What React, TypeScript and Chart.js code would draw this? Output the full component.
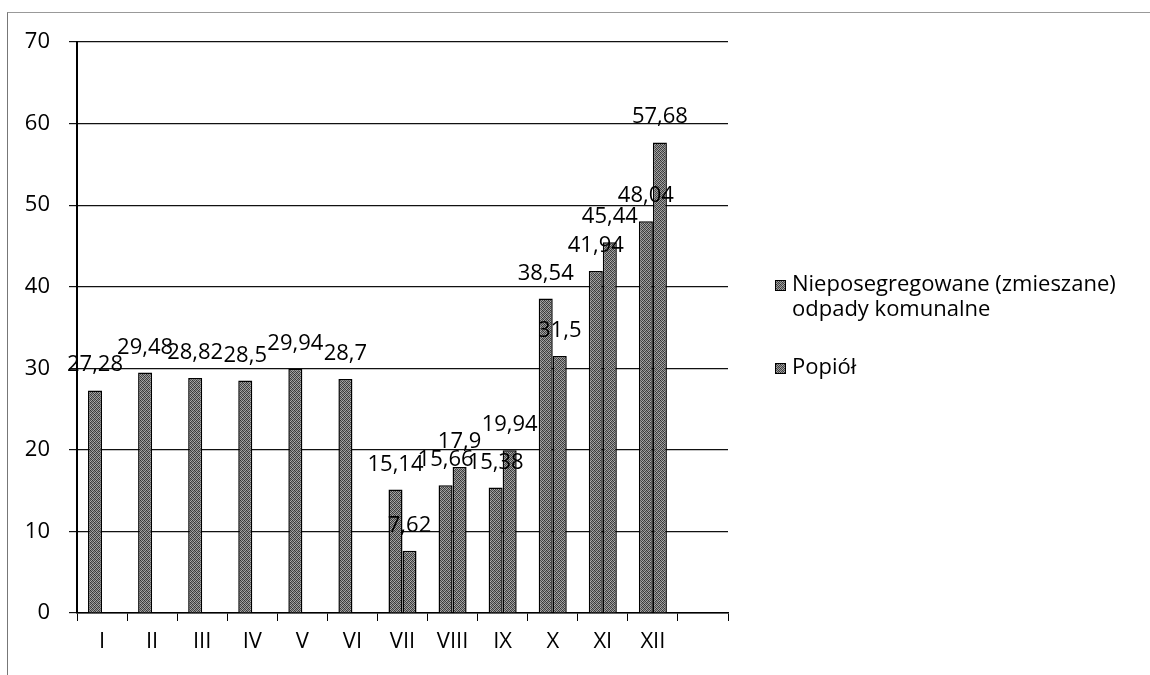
import React, { useEffect, useRef } from "react";
import { Chart, registerables } from "chart.js";

Chart.register(...registerables);

const categories = ["I", "II", "III", "IV", "V", "VI", "VII", "VIII", "IX", "X", "XI", "XII", ""];
const mixedWaste: (number | null)[] = [27.28, 29.48, 28.82, 28.5, 29.94, 28.7, 15.14, 15.66, 15.38, 38.54, 41.94, 48.04, null];
const ash: (number | null)[] = [null, null, null, null, null, null, 7.62, 17.9, 19.94, 31.5, 45.44, 57.68, null];
const seriesNames = ["Nieposegregowane (zmieszane) odpady komunalne", "Popiół"];
const legendLines = [["Nieposegregowane (zmieszane)", "odpady komunalne"], ["Popiół"]];
const yMin = 0;
const yMax = 70;
const yStep = 10;

const FONT = "'Open Sans', sans-serif";
const FONT_SIZE = 22;

function makeTexture(): CanvasPattern | string {
  const c = document.createElement("canvas");
  c.width = 4;
  c.height = 4;
  const g = c.getContext("2d");
  if (!g) return "#6a6a6a";
  const shades = [
    ["#333333", "#9a9a9a", "#4c4c4c", "#a6a6a6"],
    ["#8e8e8e", "#3e3e3e", "#b0b0b0", "#444444"],
    ["#525252", "#a2a2a2", "#363636", "#929292"],
    ["#aaaaaa", "#484848", "#8a8a8a", "#3a3a3a"],
  ];
  for (let y = 0; y < 4; y++) {
    for (let x = 0; x < 4; x++) {
      g.fillStyle = shades[y][x];
      g.fillRect(x, y, 1, 1);
    }
  }
  const p = g.createPattern(c, "repeat");
  return p || "#6a6a6a";
}

const valueLabels = {
  id: "valueLabels",
  afterDatasetsDraw(chart: any) {
    const ctx = chart.ctx;
    ctx.save();
    ctx.font = `${FONT_SIZE}px ${FONT}`;
    ctx.fillStyle = "#000";
    ctx.textAlign = "center";
    ctx.textBaseline = "alphabetic";
    chart.data.datasets.forEach((ds: any, di: number) => {
      const meta = chart.getDatasetMeta(di);
      meta.data.forEach((el: any, i: number) => {
        const v = ds.data[i];
        if (v === null || v === undefined) return;
        const txt = String(v).replace(".", ",");
        ctx.fillText(txt, el.x, el.y - 19);
      });
    });
    ctx.restore();
  },
};

const sideLegend = {
  id: "sideLegend",
  afterDraw(chart: any) {
    const ctx = chart.ctx;
    ctx.save();
    ctx.font = `${FONT_SIZE}px ${FONT}`;
    ctx.textAlign = "left";
    ctx.textBaseline = "middle";
    const starts = [285, 368];
    const lineH = 25;
    legendLines.forEach((lines, di) => {
      const y0 = starts[di];
      const ds = chart.data.datasets[di];
      ctx.fillStyle = ds.backgroundColor;
      ctx.fillRect(775, y0 - 5, 11, 11);
      ctx.strokeStyle = "#000";
      ctx.lineWidth = 1;
      ctx.strokeRect(775.5, y0 - 4.5, 10, 10);
      ctx.fillStyle = "#000";
      lines.forEach((ln, li) => {
        ctx.fillText(ln, 792, y0 + li * lineH);
      });
    });
    ctx.restore();
  },
};

export default function App() {
  const canvasRef = useRef<HTMLCanvasElement | null>(null);

  useEffect(() => {
    const canvas = canvasRef.current;
    if (!canvas) return;
    const fill = makeTexture();
    const chart = new Chart(canvas, {
      type: "bar",
      data: {
        labels: categories,
        datasets: [
          {
            label: seriesNames[0],
            data: mixedWaste,
            backgroundColor: fill as any,
            borderColor: "#000",
            borderWidth: 1.5,
            borderSkipped: "bottom",
            categoryPercentage: 0.56,
            barPercentage: 1,
          },
          {
            label: seriesNames[1],
            data: ash,
            backgroundColor: fill as any,
            borderColor: "#000",
            borderWidth: 1.5,
            borderSkipped: "bottom",
            categoryPercentage: 0.56,
            barPercentage: 1,
          },
        ],
      },
      options: {
        responsive: false,
        animation: false,
        devicePixelRatio: 1,
        layout: { padding: { left: 0, top: 42, right: 422, bottom: 0 } },
        plugins: {
          legend: { display: false },
          tooltip: { enabled: false },
        },
        scales: {
          x: {
            grid: {
              offset: true,
              drawOnChartArea: false,
              drawTicks: true,
              tickLength: 8,
              color: "#000",
            },
            border: { display: true, color: "#000", width: 1.5 },
            ticks: {
              color: "#000",
              font: { family: FONT, size: FONT_SIZE },
              padding: 8,
              autoSkip: false,
              maxRotation: 0,
            },
            afterFit: (scale: any) => {
              scale.height = 62;
            },
          },
          y: {
            min: yMin,
            max: yMax,
            grid: {
              color: "#111",
              tickLength: 8,
              lineWidth: 1.2,
            },
            border: { display: true, color: "#000", width: 2 },
            ticks: {
              stepSize: yStep,
              color: "#000",
              font: { family: FONT, size: FONT_SIZE },
              padding: 19,
            },
            afterFit: (scale: any) => {
              scale.width = 77;
            },
          },
        },
      },
      plugins: [valueLabels, sideLegend],
    });
    return () => chart.destroy();
  }, []);

  return (
    <div style={{ position: "fixed", left: 0, top: 0, width: 1150, height: 675, background: "#fff", overflow: "hidden" }}>
      <div
        style={{
          position: "absolute",
          left: 7,
          top: 12,
          width: 1200,
          height: 700,
          borderLeft: "1px solid #777",
          borderTop: "1px solid #999",
        }}
      />
      <canvas ref={canvasRef} width={1150} height={675} style={{ position: "absolute", left: 0, top: 0, width: 1150, height: 675 }} />
    </div>
  );
}
